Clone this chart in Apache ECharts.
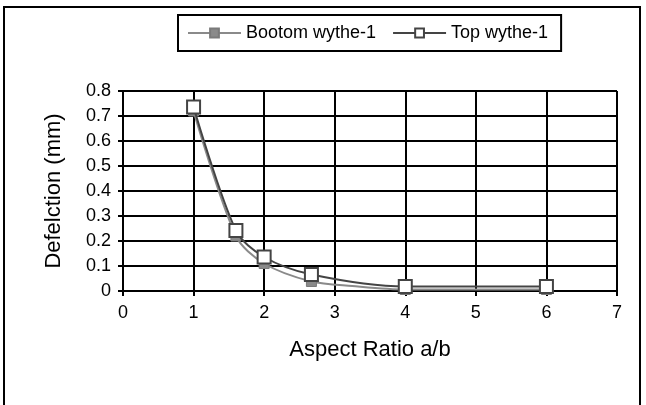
<!DOCTYPE html>
<html>
<head>
<meta charset="utf-8">
<script src="https://cdn.jsdelivr.net/npm/echarts@6/dist/echarts.min.js"></script>
<style>
  html, body { margin: 0; padding: 0; background: #fff; }
  #chart { width: 646px; height: 405px; }
</style>
</head>
<body>
<div id="chart"></div>
<script>
// Aspect ratio a/b vs. deflection for the two wythes
const bottomX = [1, 1.6, 2, 2.67, 3.25, 4, 6];
const bottomY = [0.72, 0.22, 0.11, 0.038, 0.02, 0.006, 0.006];
const topX = [1, 1.6, 2, 2.67, 4, 6];
const topY = [0.736, 0.242, 0.136, 0.066, 0.018, 0.018];
const seriesNames = ['Bootom wythe-1', 'Top wythe-1'];
const xTicks = [0, 1, 2, 3, 4, 5, 6, 7];
const yTicks = [0, 0.1, 0.2, 0.3, 0.4, 0.5, 0.6, 0.7, 0.8];

const FONT = 'Liberation Sans';

const bottomData = bottomX.map((x, i) => {
  const item = { value: [x, bottomY[i]] };
  if (x === 3.25) item.symbol = 'none';
  return item;
});
const topData = topX.map((x, i) => [x, topY[i]]);

const chart = echarts.init(document.getElementById('chart'), null, { renderer: 'canvas' });
chart.setOption({
  animation: false,
  backgroundColor: '#fff',
  graphic: [{
    type: 'rect',
    shape: { x: 4, y: 7, width: 636, height: 430 },
    style: { fill: 'none', stroke: '#000', lineWidth: 2 },
    silent: true
  }],
  legend: {
    left: 178,
    top: 15,
    data: seriesNames,
    itemWidth: 53,
    itemHeight: 11,
    itemGap: 16,
    padding: [9, 13, 9, 9],
    borderColor: '#000',
    borderWidth: 2,
    textStyle: { fontFamily: FONT, fontSize: 18, color: '#000' }
  },
  grid: { left: 123, right: 29, top: 91, bottom: 114 },
  xAxis: {
    type: 'value',
    min: xTicks[0],
    max: xTicks[xTicks.length - 1],
    interval: 1,
    name: 'Aspect Ratio a/b',
    nameLocation: 'middle',
    nameGap: 48,
    nameTextStyle: { fontFamily: FONT, fontSize: 22, color: '#000' },
    axisLine: { lineStyle: { color: '#000', width: 2 } },
    axisTick: { show: true, length: 5, lineStyle: { color: '#000', width: 2 } },
    axisLabel: { fontFamily: FONT, fontSize: 18, color: '#000', margin: 13 },
    splitLine: { show: true, lineStyle: { color: '#000', width: 2 } }
  },
  yAxis: {
    type: 'value',
    min: yTicks[0],
    max: yTicks[yTicks.length - 1],
    interval: 0.1,
    name: 'Defelction (mm)',
    nameLocation: 'middle',
    nameGap: 58,
    nameTextStyle: { fontFamily: FONT, fontSize: 22, color: '#000' },
    axisLine: { show: true, lineStyle: { color: '#000', width: 2 } },
    axisTick: { show: true, length: 5, lineStyle: { color: '#000', width: 2 } },
    axisLabel: {
      fontFamily: FONT, fontSize: 18, color: '#000', margin: 12,
      formatter: v => (Math.round(v * 10) / 10).toString()
    },
    splitLine: { show: true, lineStyle: { color: '#000', width: 2 } }
  },
  series: [
    {
      name: seriesNames[0],
      type: 'line',
      data: bottomData,
      smooth: 0.3,
      symbol: 'rect',
      symbolSize: 10,
      color: '#8a8a8a',
      lineStyle: { color: '#8a8a8a', width: 2 },
      itemStyle: { color: '#8a8a8a', borderColor: '#7a7a7a', borderWidth: 1 },
      z: 2
    },
    {
      name: seriesNames[1],
      type: 'line',
      data: topData,
      smooth: 0.3,
      symbol: 'rect',
      symbolSize: 13,
      color: '#444',
      lineStyle: { color: '#444', width: 2 },
      itemStyle: { color: '#fff', borderColor: '#444', borderWidth: 2 },
      z: 3
    }
  ]
});
</script>
</body>
</html>
